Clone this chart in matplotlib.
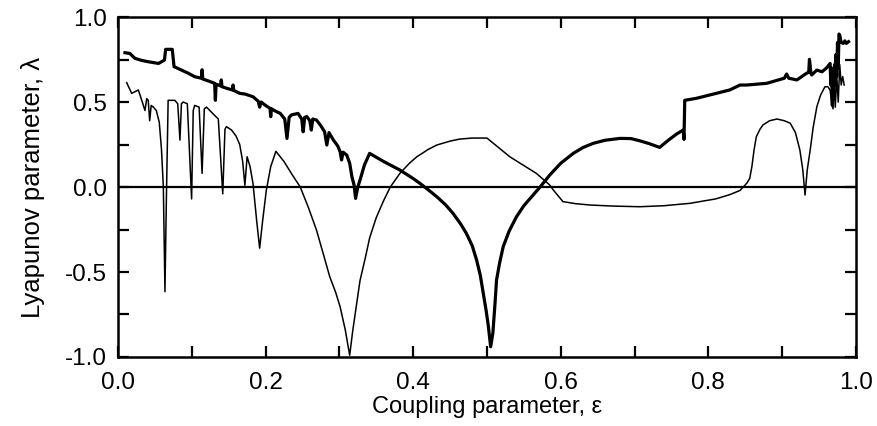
import numpy as np
import matplotlib
matplotlib.use('Agg')
import matplotlib.pyplot as plt
from matplotlib.ticker import MultipleLocator

plt.rcParams['font.family'] = ['Liberation Sans', 'DejaVu Sans']

# upper exponent (thick line)
thick_x = [0.0095, 0.016, 0.023, 0.032, 0.041, 0.055, 0.063, 0.0646, 0.0736, 0.076, 0.086,
           0.095, 0.104, 0.113, 0.114, 0.115, 0.122, 0.131, 0.132, 0.133, 0.139, 0.140, 0.141,
           0.148, 0.155, 0.156, 0.157, 0.165, 0.172, 0.183, 0.190, 0.192, 0.194, 0.200, 0.206,
           0.207, 0.208, 0.214, 0.220, 0.226, 0.229, 0.232, 0.235, 0.244, 0.249, 0.251, 0.253,
           0.256, 0.260, 0.262, 0.264, 0.269, 0.275, 0.280, 0.283, 0.286, 0.292, 0.298, 0.301,
           0.303, 0.305, 0.310, 0.314, 0.317, 0.320, 0.322, 0.325, 0.328, 0.334, 0.341, 0.36,
           0.382, 0.40, 0.409, 0.42, 0.432, 0.444, 0.454, 0.464, 0.472, 0.48, 0.486, 0.491,
           0.495, 0.499, 0.502, 0.505, 0.508, 0.511, 0.513, 0.517, 0.522, 0.53, 0.54, 0.55,
           0.56, 0.572, 0.585, 0.60, 0.617, 0.63, 0.644, 0.66, 0.68, 0.695, 0.707, 0.72, 0.734,
           0.746, 0.757, 0.766, 0.767, 0.768, 0.784, 0.81, 0.829, 0.843, 0.852, 0.879, 0.903,
           0.906, 0.909, 0.92, 0.933, 0.936, 0.937, 0.939, 0.94, 0.947, 0.954, 0.960, 0.965,
           0.966, 0.967, 0.968, 0.969, 0.970, 0.971, 0.972, 0.973, 0.974, 0.975, 0.976, 0.977,
           0.978, 0.980, 0.983, 0.985, 0.987, 0.99]
thick_y = [0.79, 0.786, 0.757, 0.745, 0.737, 0.727, 0.747, 0.81, 0.81, 0.708, 0.688,
           0.670, 0.649, 0.640, 0.690, 0.635, 0.625, 0.610, 0.51, 0.605, 0.595, 0.63, 0.59,
           0.580, 0.571, 0.600, 0.568, 0.551, 0.547, 0.531, 0.505, 0.470, 0.500, 0.480, 0.463,
           0.414, 0.460, 0.445, 0.433, 0.400, 0.286, 0.410, 0.424, 0.433, 0.400, 0.325, 0.410,
           0.414, 0.390, 0.335, 0.400, 0.394, 0.360, 0.325, 0.247, 0.320, 0.276, 0.240, 0.208,
           0.159, 0.205, 0.188, 0.140, 0.061, 0.010, -0.067, 0.000, 0.041, 0.130, 0.198, 0.150,
           0.100, 0.050, 0.022, -0.015, -0.057, -0.105, -0.155, -0.215, -0.272, -0.345, -0.43,
           -0.52, -0.625, -0.73, -0.822, -0.94, -0.86, -0.68, -0.547, -0.45, -0.351, -0.26,
           -0.175, -0.11, -0.06, 0.0, 0.07, 0.14, 0.198, 0.232, 0.257, 0.275, 0.286, 0.285,
           0.272, 0.255, 0.233, 0.276, 0.312, 0.335, 0.280, 0.51, 0.522, 0.55, 0.571, 0.60,
           0.60, 0.61, 0.640, 0.665, 0.640, 0.63, 0.669, 0.675, 0.751, 0.670, 0.659, 0.688,
           0.678, 0.700, 0.727, 0.600, 0.700, 0.480, 0.650, 0.560, 0.720, 0.600, 0.780, 0.650,
           0.850, 0.700, 0.900, 0.894, 0.850, 0.845, 0.860, 0.845, 0.855]

# lower exponent (thin line)
thin_x = [0.0118, 0.0186, 0.0276, 0.033, 0.0366, 0.039, 0.041, 0.043, 0.045, 0.048, 0.052,
          0.056, 0.059, 0.0615, 0.0637, 0.0655, 0.068, 0.077, 0.081, 0.084, 0.086, 0.0885,
          0.094, 0.0998, 0.102, 0.104, 0.110, 0.114, 0.117, 0.120, 0.129, 0.136, 0.142, 0.145,
          0.147, 0.154, 0.160, 0.165, 0.169, 0.172, 0.175, 0.179, 0.183, 0.188, 0.192, 0.196,
          0.201, 0.207, 0.214, 0.225, 0.235, 0.247, 0.258, 0.269, 0.278, 0.287, 0.295, 0.301,
          0.308, 0.314, 0.318, 0.323, 0.328, 0.335, 0.341, 0.35, 0.36, 0.369, 0.382, 0.395,
          0.405, 0.42, 0.432, 0.45, 0.463, 0.48, 0.50, 0.531, 0.567, 0.585, 0.59, 0.603, 0.62,
          0.64, 0.67, 0.707, 0.74, 0.775, 0.81, 0.829, 0.843, 0.852, 0.856, 0.859, 0.862,
          0.865, 0.87, 0.874, 0.883, 0.893, 0.903, 0.911, 0.918, 0.924, 0.928, 0.931, 0.934,
          0.938, 0.942, 0.947, 0.952, 0.958, 0.962, 0.965, 0.967, 0.969, 0.970, 0.972, 0.974,
          0.976, 0.978, 0.980, 0.982, 0.984]
thin_y = [0.614, 0.551, 0.571, 0.50, 0.45, 0.52, 0.51, 0.39, 0.48, 0.47, 0.45,
          0.38, 0.22, 0.0, -0.616, -0.1, 0.51, 0.51, 0.49, 0.276, 0.49, 0.50,
          0.49, -0.07, 0.45, 0.48, 0.47, 0.08, 0.46, 0.47, 0.43, 0.40, -0.04, 0.34,
          0.355, 0.335, 0.30, 0.25, 0.15, 0.01, 0.178, 0.12, 0.02, -0.20, -0.36, -0.20,
          -0.02, 0.12, 0.21, 0.15, 0.08, 0.0, -0.12, -0.253, -0.39, -0.528, -0.62, -0.704,
          -0.84, -0.99, -0.85, -0.70, -0.55, -0.42, -0.30, -0.18, -0.08, 0.0, 0.08, 0.14,
          0.178, 0.22, 0.247, 0.27, 0.282, 0.288, 0.288, 0.178, 0.08, 0.012, -0.018, -0.086, -0.098,
          -0.106, -0.112, -0.116, -0.11, -0.096, -0.07, -0.045, -0.02, 0.022, 0.05, 0.12, 0.22,
          0.296, 0.34, 0.365, 0.39, 0.40, 0.39, 0.375, 0.32, 0.218, 0.10, -0.047, 0.10,
          0.218, 0.35, 0.472, 0.54, 0.59, 0.59, 0.57, 0.50, 0.46, 0.62, 0.47, 0.65,
          0.50, 0.72, 0.60, 0.65, 0.60]

fig = plt.figure(figsize=(8.77, 4.26), dpi=100)
ax = fig.add_axes([0.1345, 0.162, 0.8415, 0.798])

ax.axhline(0, color='black', lw=1.6)
ax.plot(thin_x, thin_y, color='black', lw=1.1)
ax.plot(thick_x, thick_y, color='black', lw=2.3)

ax.set_xlim(0, 1)
ax.set_ylim(-1, 1)
ax.xaxis.set_major_locator(MultipleLocator(0.2))
ax.xaxis.set_minor_locator(MultipleLocator(0.1))
ax.yaxis.set_major_locator(MultipleLocator(0.5))
ax.yaxis.set_minor_locator(MultipleLocator(0.25))
ax.xaxis.set_major_formatter(plt.FormatStrFormatter('%.1f'))
ax.yaxis.set_major_formatter(plt.FormatStrFormatter('%.1f'))
ax.tick_params(which='both', direction='in', top=True, right=True, length=8, width=1.6,
               labelsize=17.5)
ax.tick_params(axis='x', pad=11)
ax.tick_params(axis='y', pad=8)
for s in ax.spines.values():
    s.set_linewidth(1.8)

ax.set_xlabel('Coupling parameter, ε', fontsize=17, labelpad=1)
ax.set_ylabel('Lyapunov parameter, λ', fontsize=18.5, labelpad=14)

fig.savefig('out.png', dpi=100)
